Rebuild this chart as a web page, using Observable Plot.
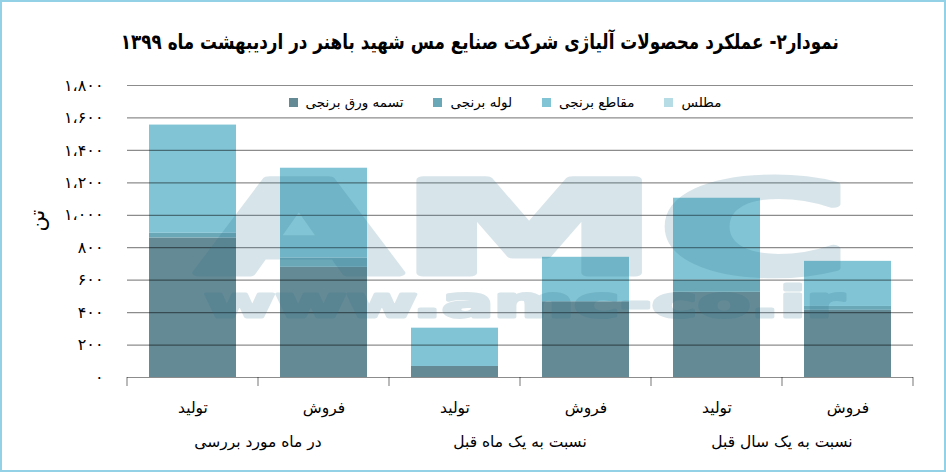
<!DOCTYPE html>
<html>
<head>
<meta charset="utf-8">
<script src="https://cdn.jsdelivr.net/npm/d3@7"></script>
<script src="https://cdn.jsdelivr.net/npm/@observablehq/plot@0.6"></script>
<style>
  body { margin: 0; background: #fff; font-family: "DejaVu Sans", sans-serif; }
  #wrap { position: relative; width: 946px; height: 474px; overflow: hidden; }
  #frame { position: absolute; left: 0; top: 0; width: 946px; height: 472px; border: 2px solid #93d2e6; box-sizing: border-box; pointer-events: none; }
  #title { height: 70px; box-sizing: border-box; padding-top: 28px; line-height: 28px; text-align: center; padding-left: 14px; }
  #title span { display: inline-block; direction: rtl; font-size: 21px; font-weight: bold; transform: scaleX(0.8); transform-origin: center; }
  #legend { position: absolute; left: 127px; top: 86px; width: 786px; height: 32px; display: flex; justify-content: center; align-items: center; }
  .lg-swatches { font-family: "DejaVu Sans", sans-serif !important; font-size: 13.5px !important; margin: 0 !important; color: #000; }
  .lg-swatches-wrap { min-height: 0 !important; }
  .lg-swatches-wrap .lg-swatch { margin-right: 30px !important; }
  .lg-swatch > svg { margin-right: 8px !important; }
</style>
</head>
<body>
<div id="wrap">
  <div id="title"><span>نمودار۲- عملکرد محصولات آلیاژی شرکت صنایع مس شهید باهنر در اردیبهشت ماه ۱۳۹۹</span></div>
  <div id="chart"></div>
  <div id="legend"></div>
  <div id="frame"></div>
</div>
<script>
// bars, left to right: (period, kind)
const periods = ["در ماه مورد بررسی", "نسبت به یک ماه قبل", "نسبت به یک سال قبل"]
const kinds = ["تولید", "فروش"]
const seriesNames = ["تسمه ورق برنجی", "لوله برنجی", "مقاطع برنجی", "مطلس"]

// tonnes
const tasme  = [860, 679, 68, 467, 525, 414]
const looleh = [29, 57, 0, 0, 75, 24]
const maqate = [667, 554, 236, 274, 505, 278]
const motlas = [0, 0, 0, 0, 0, 0]

const yTicks = [0, 200, 400, 600, 800, 1000, 1200, 1400, 1600, 1800]

const keys = periods.flatMap(p => kinds.map(k => p + "|" + k))
const seriesValues = [tasme, looleh, maqate, motlas]
const table = seriesNames.flatMap((s, j) =>
  keys.map((key, i) => ({key, series: s, value: seriesValues[j][i]})))

const faDigits = "۰۱۲۳۴۵۶۷۸۹"
const fa = d => d3.format(",")(d).replace(/,/g, "،").replace(/\d/g, c => faDigits[c])

let chart = Plot.plot({
  width: 946,
  height: 404,
  marginLeft: 127,
  marginRight: 33,
  marginTop: 15,
  marginBottom: 97,
  x: {domain: keys, paddingInner: 0.336, paddingOuter: 0.168},
  y: {domain: [0, 1800]},
  color: {domain: seriesNames, range: ["#648a95", "#6aa8b8", "#80c4d5", "#b6dce6"]},
  marks: [
    Plot.barY(table, {x: "key", y: "value", fill: "series"}),
    Plot.gridY(yTicks, {stroke: "#000", strokeOpacity: 0.45, strokeWidth: 1.2}),
    Plot.axisY(yTicks, {tickSize: 0, tickPadding: 24, tickFormat: fa, fontSize: 16, label: null}),
    Plot.axisX({tickSize: 0, tickPadding: 24, tickFormat: k => k.split("|")[1], fontSize: 15.5, label: null}),
    Plot.text(["تن"], {frameAnchor: "left", rotate: -90, dx: -90, fontSize: 21}),
  ],
  style: {
    background: "#fff",
    color: "#000",
    fontFamily: "DejaVu Sans",
  }
})

// category separators and period labels from the band scale
const xs = chart.scale("x")
const bw = xs.bandwidth
const gap = (xs.step - bw) / 2
const svg = d3.select(chart)
const bottom = 404 - 97
const sepX = keys.map(k => xs.apply(k) - gap).concat([xs.apply(keys[keys.length - 1]) + bw + gap])
svg.append("g").selectAll("line").data(sepX).join("line")
  .attr("x1", d => d).attr("x2", d => d)
  .attr("y1", bottom).attr("y2", bottom + 9)
  .attr("stroke", "#000").attr("stroke-opacity", 0.45).attr("stroke-width", 1.2)

svg.append("g").selectAll("text").data(periods).join("text")
  .attr("x", (p, i) => (xs.apply(keys[2 * i]) + xs.apply(keys[2 * i + 1]) + bw) / 2)
  .attr("y", bottom + 65)
  .attr("dy", "0.35em")
  .attr("text-anchor", "middle")
  .attr("font-size", 15.5)
  .attr("fill", "#000")
  .text(d => d)

// watermark
const cx = (127 + 946 - 33) / 2 + 4
const wm = svg.append("g").attr("opacity", 0.18)
  .attr("fill", "#2a6f8a").attr("stroke", "#2a6f8a").attr("stroke-linejoin", "round")
  .attr("font-family", "DejaVu Sans").attr("font-weight", "bold").attr("text-anchor", "middle")
wm.append("text").attr("x", cx).attr("y", 203).attr("font-size", 128).attr("stroke-width", 7)
  .attr("textLength", 652).attr("lengthAdjust", "spacingAndGlyphs").text("AMC")
wm.append("text").attr("x", cx).attr("y", 247).attr("font-size", 43).attr("stroke-width", 3)
  .attr("textLength", 640).attr("lengthAdjust", "spacingAndGlyphs").text("www.amc-co.ir")

d3.select("#chart").append(() => chart)

const leg = chart.legend("color", {swatchSize: 9, className: "lg"})
d3.select("#legend").append(() => leg)
</script>
</body>
</html>
